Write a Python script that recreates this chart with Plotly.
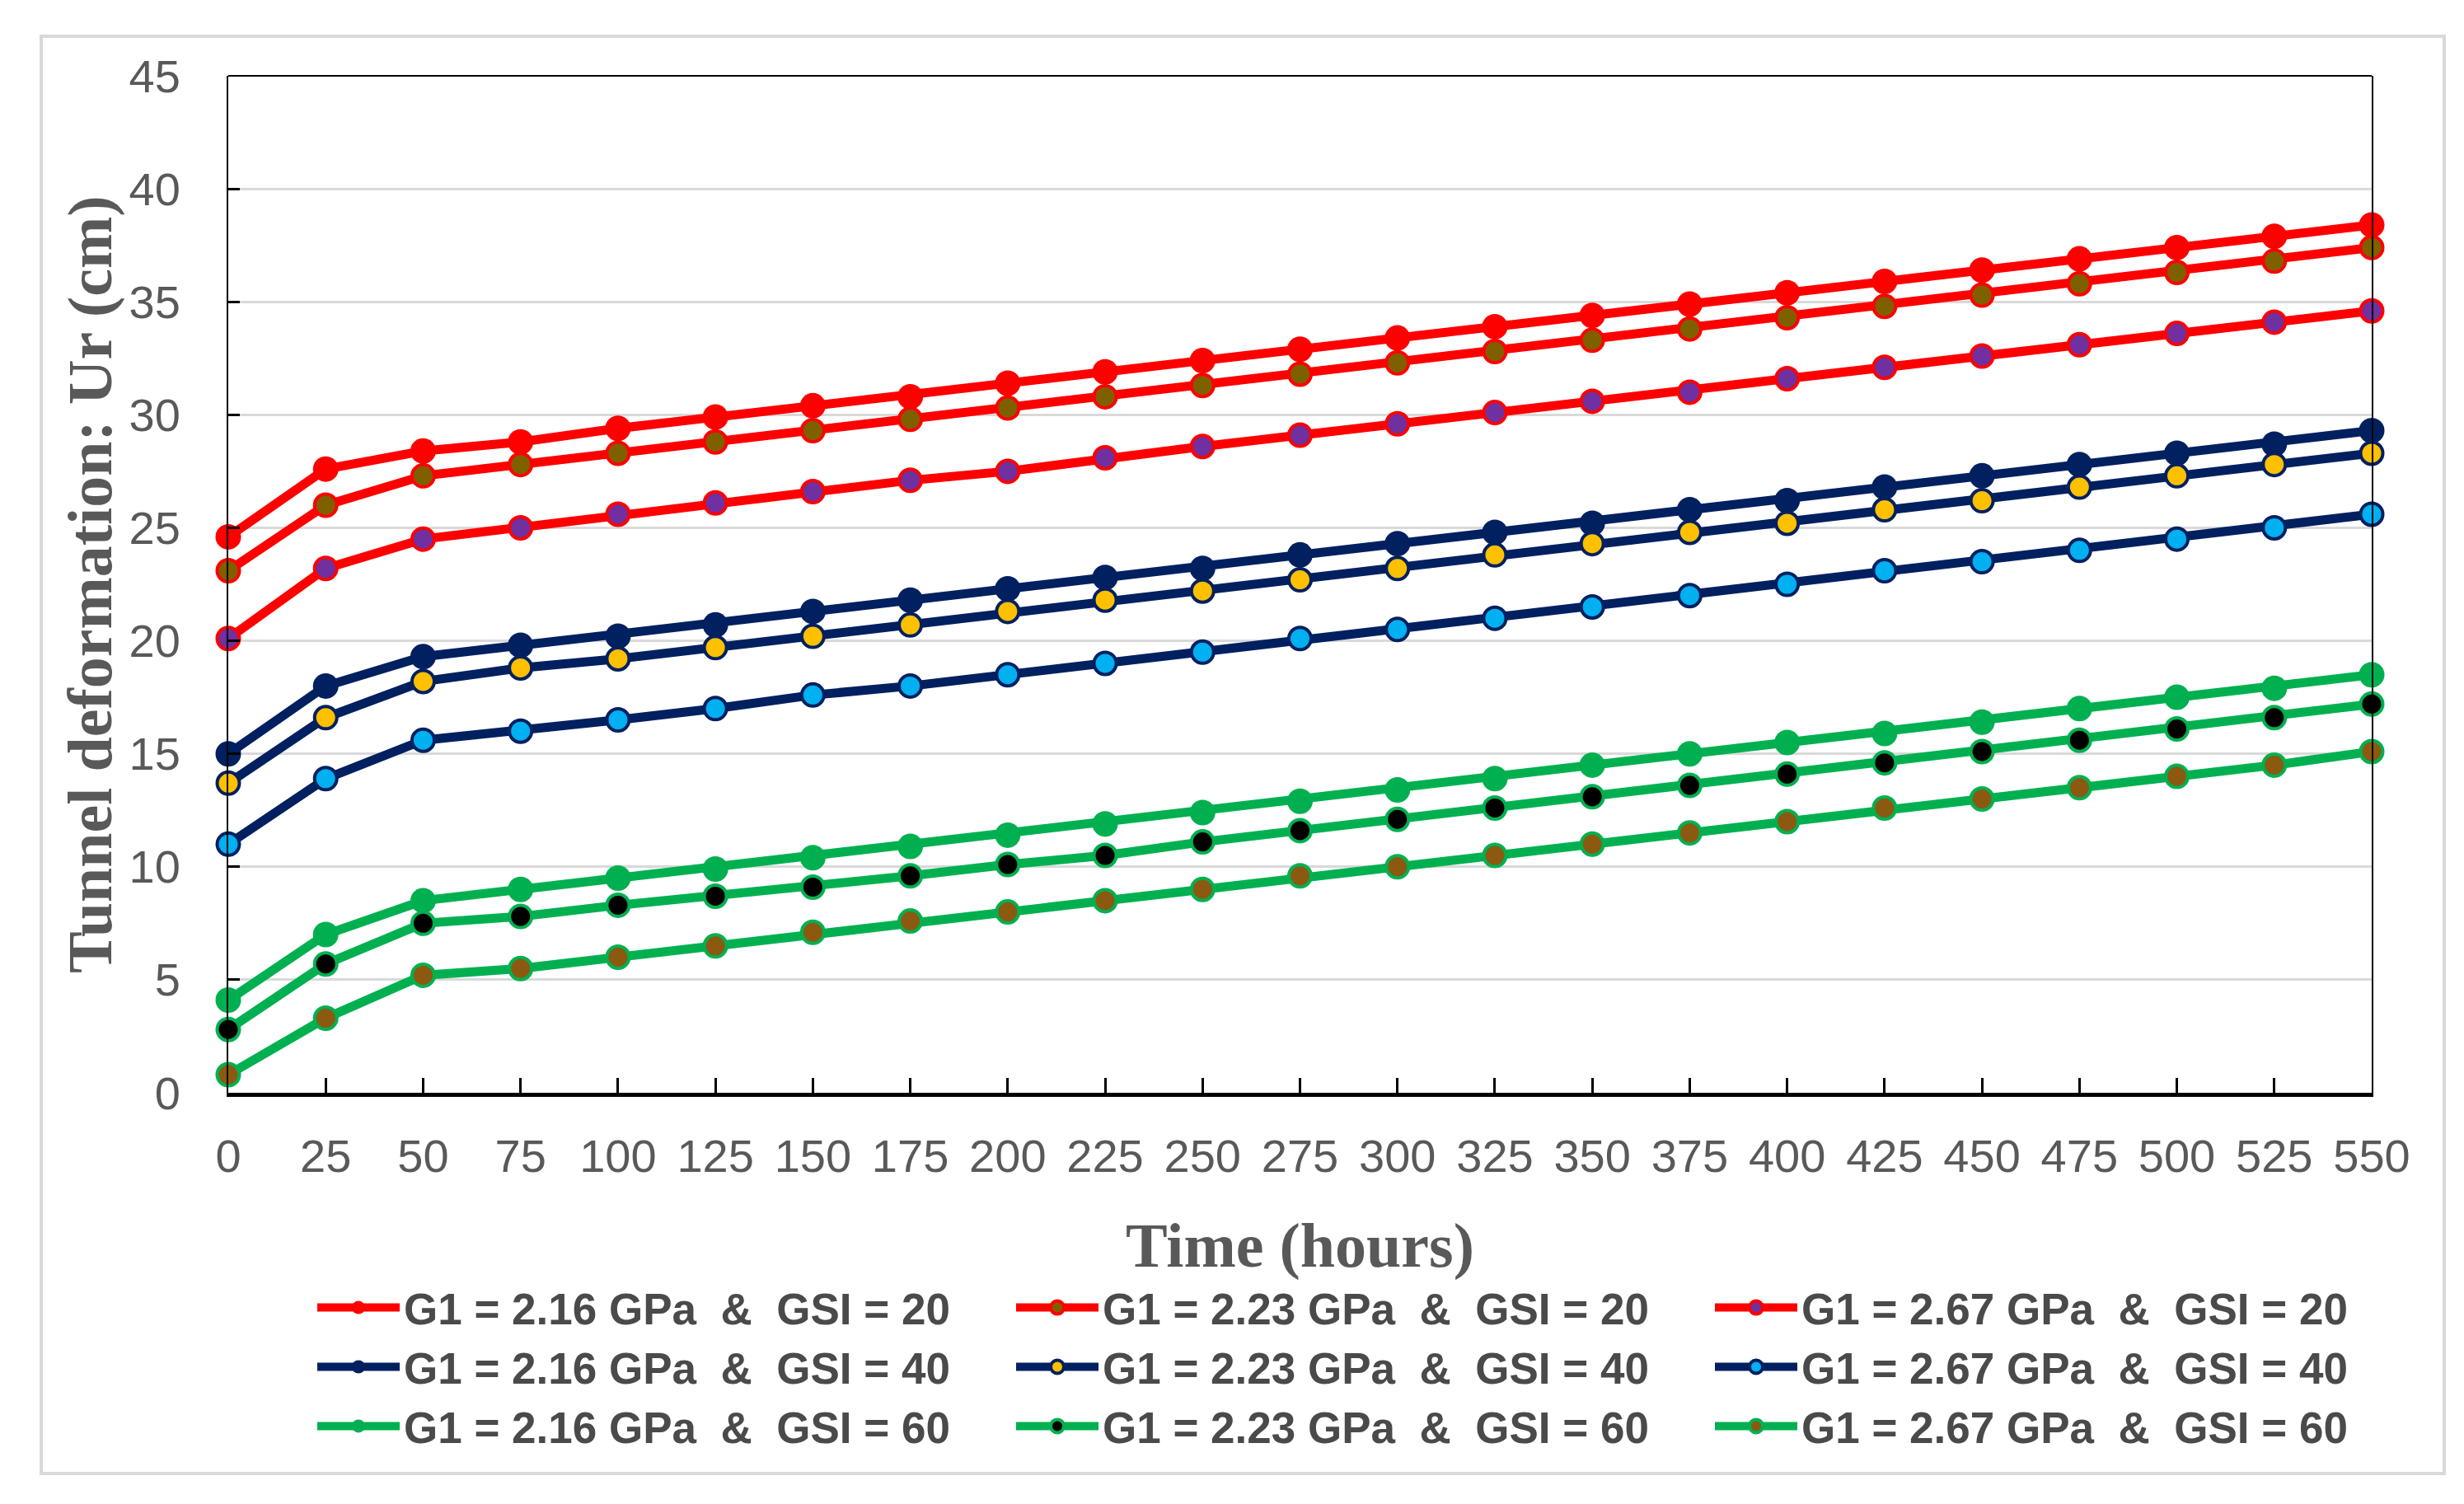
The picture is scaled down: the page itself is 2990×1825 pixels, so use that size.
import plotly.graph_objects as go

hours = [0, 25, 50, 75, 100, 125, 150, 175, 200, 225, 250, 275, 300, 325, 350, 375, 400, 425, 450, 475, 500, 525, 550]

g216_gsi20 = [24.6, 27.6, 28.4, 28.8, 29.4, 29.9, 30.4, 30.8, 31.4, 31.9, 32.4, 32.9, 33.4, 33.9, 34.4, 34.9, 35.4, 35.9, 36.4, 36.9, 37.4, 37.9, 38.4]
g223_gsi20 = [23.1, 26.0, 27.3, 27.8, 28.3, 28.8, 29.3, 29.8, 30.3, 30.8, 31.3, 31.8, 32.3, 32.8, 33.3, 33.8, 34.3, 34.8, 35.3, 35.8, 36.3, 36.8, 37.4]
g267_gsi20 = [20.1, 23.2, 24.5, 25.0, 25.6, 26.1, 26.6, 27.1, 27.5, 28.1, 28.6, 29.1, 29.6, 30.1, 30.6, 31.0, 31.6, 32.1, 32.6, 33.1, 33.6, 34.1, 34.6]
g216_gsi40 = [15.0, 18.0, 19.3, 19.8, 20.2, 20.7, 21.3, 21.8, 22.3, 22.8, 23.2, 23.8, 24.3, 24.8, 25.2, 25.8, 26.2, 26.8, 27.3, 27.8, 28.3, 28.7, 29.3]
g223_gsi40 = [13.7, 16.6, 18.2, 18.8, 19.2, 19.7, 20.2, 20.7, 21.3, 21.8, 22.2, 22.7, 23.2, 23.8, 24.3, 24.8, 25.2, 25.8, 26.2, 26.8, 27.3, 27.8, 28.3]
g267_gsi40 = [11.0, 13.9, 15.6, 16.0, 16.5, 17.0, 17.6, 18.0, 18.5, 19.0, 19.5, 20.1, 20.5, 21.0, 21.5, 22.0, 22.5, 23.1, 23.5, 24.0, 24.5, 25.0, 25.6]
g216_gsi60 = [4.1, 7.0, 8.5, 9.0, 9.5, 9.9, 10.4, 10.9, 11.4, 11.9, 12.4, 12.9, 13.4, 13.9, 14.5, 15.0, 15.5, 15.9, 16.4, 17.0, 17.5, 17.9, 18.5]
g223_gsi60 = [2.8, 5.7, 7.5, 7.8, 8.3, 8.7, 9.1, 9.6, 10.1, 10.5, 11.1, 11.6, 12.1, 12.6, 13.1, 13.6, 14.1, 14.6, 15.1, 15.6, 16.1, 16.6, 17.2]
g267_gsi60 = [0.8, 3.3, 5.2, 5.5, 6.0, 6.5, 7.1, 7.6, 8.0, 8.5, 9.0, 9.6, 10.0, 10.5, 11.0, 11.5, 12.0, 12.6, 13.0, 13.5, 14.0, 14.5, 15.1]

series_names = [
    "G1 = 2.16 GPa  &  GSI = 20", "G1 = 2.23 GPa  &  GSI = 20", "G1 = 2.67 GPa  &  GSI = 20",
    "G1 = 2.16 GPa  &  GSI = 40", "G1 = 2.23 GPa  &  GSI = 40", "G1 = 2.67 GPa  &  GSI = 40",
    "G1 = 2.16 GPa  &  GSI = 60", "G1 = 2.23 GPa  &  GSI = 60", "G1 = 2.67 GPa  &  GSI = 60",
]
series_values = [g216_gsi20, g223_gsi20, g267_gsi20, g216_gsi40, g223_gsi40, g267_gsi40,
                 g216_gsi60, g223_gsi60, g267_gsi60]
line_colors = ["#FF0000", "#FF0000", "#FF0000", "#002060", "#002060", "#002060",
               "#00B050", "#00B050", "#00B050"]
fill_colors = ["#FF0000", "#7F6000", "#7030A0", "#002060", "#FFC000", "#00B0F0",
               "#00B050", "#000000", "#8B5A10"]

y_ticks = [0, 5, 10, 15, 20, 25, 30, 35, 40, 45]

TICK_FONT = "Liberation Sans Narrow, Liberation Sans, Arial, sans-serif"
TITLE_FONT = "Liberation Serif, Times New Roman, serif"
GRAY = "#595959"

fig = go.Figure()
for name, vals, lc, fc in zip(series_names, series_values, line_colors, fill_colors):
    solid = (lc == fc)
    fig.add_trace(go.Scatter(
        x=hours, y=vals, mode="lines+markers", name=name.replace("  ", "\u00a0\u00a0"),
        line=dict(color=lc, width=11),
        marker=dict(color=fc, size=31 if solid else 27,
                    line=dict(color=lc, width=0 if solid else 4)),
        cliponaxis=False,
    ))

fig.update_layout(
    width=2990, height=1825,
    margin=dict(l=269, r=120, t=84, b=507, autoexpand=False),
    paper_bgcolor="white", plot_bgcolor="white",
    showlegend=True,
    legend=dict(
        orientation="h", x=(372 - 269) / 2601, y=-0.178, xanchor="left", yanchor="top",
        font=dict(family=TICK_FONT, size=53, color="#4a4a4a", weight="bold"),
        entrywidth=733, entrywidthmode="pixels", itemwidth=100,
        bgcolor="rgba(0,0,0,0)",
    ),
    xaxis=dict(
        range=[0, 550], tickvals=hours, ticktext=[str(h) for h in hours],
        ticks="inside", ticklen=18, tickwidth=3, tickcolor="black",
        showline=True, linecolor="black", linewidth=5,
        showgrid=False, zeroline=False,
        tickfont=dict(family=TICK_FONT, size=56, color=GRAY),
        ticklabelstandoff=24,
    ),
    yaxis=dict(
        range=[0, 45], tickvals=y_ticks,
        ticks="inside", ticklen=14, tickwidth=3, tickcolor="black",
        showline=True, linecolor="black", linewidth=2, mirror=True,
        showgrid=True, gridcolor="#D9D9D9", gridwidth=3, zeroline=False,
        tickfont=dict(family=TICK_FONT, size=56, color=GRAY),
        ticklabelstandoff=45,
    ),
    annotations=[
        dict(text="Time (hours)", xref="paper", yref="paper", x=0.5, y=-0.15,
             xanchor="center", yanchor="middle", showarrow=False,
             font=dict(family=TITLE_FONT, size=76, color=GRAY, weight="bold")),
        dict(text="Tunnel deformation: Ur (cm)", xref="paper", yref="paper", x=-0.0646, y=0.5,
             xanchor="center", yanchor="middle", showarrow=False, textangle=-90,
             font=dict(family=TITLE_FONT, size=76, color=GRAY, weight="bold")),
    ],
    shapes=[
        dict(type="line", xref="paper", yref="paper", x0=0, x1=1, y0=1, y1=1,
             line=dict(color="black", width=2)),
        dict(type="rect", xref="paper", yref="paper",
             x0=(42 - 269) / 2601, x1=(2958 - 269) / 2601,
             y0=(1318 - 1780) / 1234, y1=(1318 - 36) / 1234,
             line=dict(color="#D9D9D9", width=4), layer="below"),
    ],
)

fig.write_html("out.html")
